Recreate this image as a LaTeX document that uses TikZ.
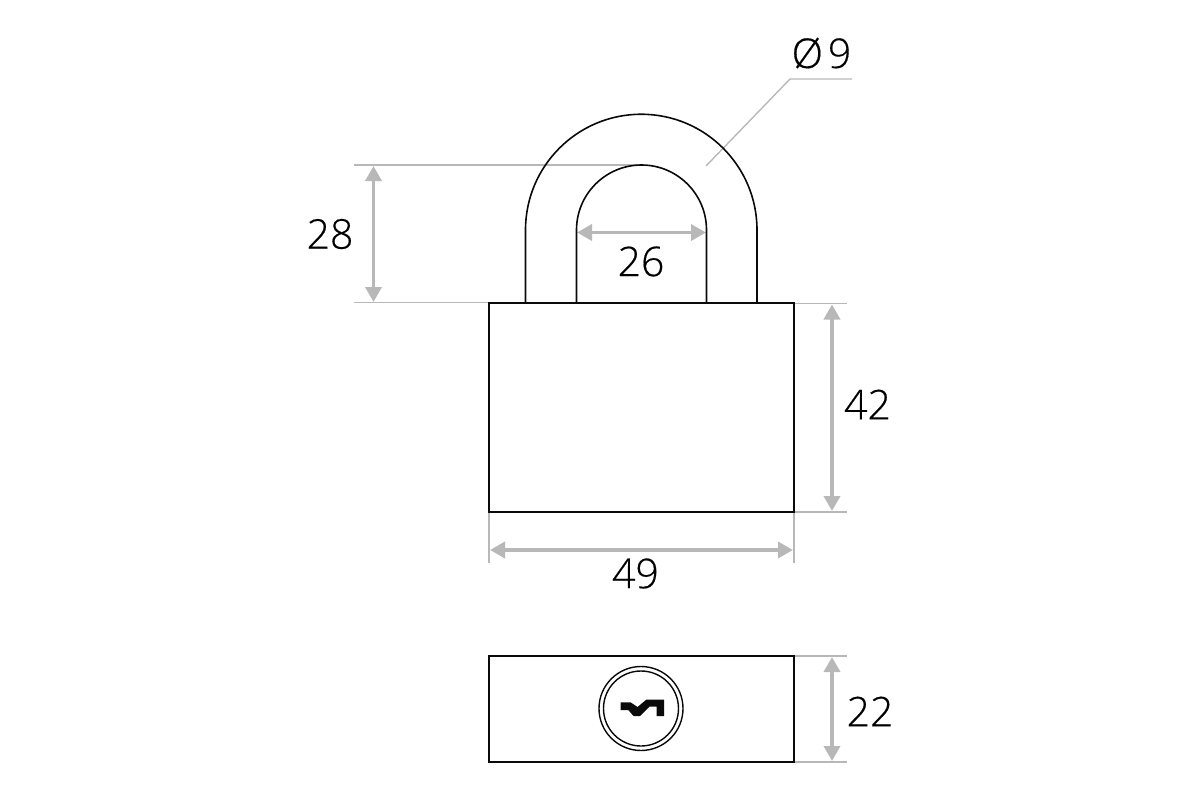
\documentclass[tikz,border=0pt]{standalone}
\usepackage{fontspec}
\setmainfont{Open Sans}
\newfontfamily\dimfont[FakeBold=0.35]{Open Sans Light}
\usetikzlibrary{arrows.meta}
\definecolor{dimgray}{RGB}{184,184,184}
\definecolor{inkline}{RGB}{10,10,10}
\tikzset{
  x=1pt,y=-1pt,
  body/.style={draw=inkline,line width=1.6pt,line join=miter},
  extline/.style={draw=dimgray,line width=1.4pt},
  dimarrow/.style={draw=dimgray,line width=3.6pt,{Triangle[length=15pt,width=16pt,fill=dimgray]}-{Triangle[length=15pt,width=16pt,fill=dimgray]}},
  dimlabel/.style={font=\dimfont\fontsize{41}{41}\selectfont,text=black,inner sep=0pt,anchor=center},
}
\begin{document}
\begin{tikzpicture}
\useasboundingbox (0,0) rectangle (1200,800);
% extension lines
\coordinate (e1a) at (354,165); \coordinate (e1b) at (640,165);
\coordinate (e2a) at (354,302.5); \coordinate (e2b) at (489,302.5);
\coordinate (e3a) at (794,303.5); \coordinate (e3b) at (847,303.5);
\coordinate (e4a) at (794,512); \coordinate (e4b) at (847,512);
\coordinate (e5a) at (489,512); \coordinate (e5b) at (489,563);
\coordinate (e6a) at (794,512); \coordinate (e6b) at (794,563);
\coordinate (e7a) at (794,656); \coordinate (e7b) at (847,656);
\coordinate (e8a) at (794,762); \coordinate (e8b) at (847,762);
\foreach \i in {1,...,8} \draw[extline] (e\i a) -- (e\i b);
% leader
\coordinate (l1) at (706,166); \coordinate (l2) at (790,79); \coordinate (l3) at (852,79);
\draw[extline] (l1) -- (l2) -- (l3);
% dimension arrows
\coordinate (a1) at (373.5,166); \coordinate (a2) at (373.5,302);
\coordinate (b1) at (577,232.5); \coordinate (b2) at (706,232.5);
\coordinate (c1) at (832,304.5); \coordinate (c2) at (832,511);
\coordinate (d1) at (490,550); \coordinate (d2) at (793,550);
\coordinate (f1) at (832,657); \coordinate (f2) at (832,761);
\draw[dimarrow] (a1) -- (a2);
\draw[dimarrow] (b1) -- (b2);
\draw[dimarrow] (c1) -- (c2);
\draw[dimarrow] (d1) -- (d2);
\draw[dimarrow] (f1) -- (f2);
% shackle
\draw[body] (525.5,303) -- (525.5,230) arc[start angle=180,end angle=0,x radius=115.75,y radius=-115.75] -- (757,303);
\draw[body] (576.5,303) -- (576.5,230) arc[start angle=180,end angle=0,x radius=65,y radius=-65] -- (706.5,303);
% body views
\node[body,outer sep=0pt,minimum width=305pt,minimum height=209pt,inner sep=0pt,anchor=north west] (case) at (489,303) {};
\node[body,outer sep=0pt,minimum width=305pt,minimum height=106pt,inner sep=0pt,anchor=north west] (base) at (489,656) {};
% lock cylinder
\draw[draw=inkline,line width=1.4pt] (641,708.5) circle[radius=42];
\draw[draw=inkline,line width=1.4pt] (641,708.5) circle[radius=37.5];
\fill[inkline] (620.7,702.3) -- (630.5,702.3) -- (637.5,707) -- (646.5,699.5) -- (664,699.5) -- (664,716) -- (656.7,716) -- (656.7,706.7) -- (649.5,706.7) -- (640,716) -- (633.5,716) -- (628.3,710) -- (620.7,710) -- cycle;
% labels
\node[dimlabel] (t28) at (330,234) {28};
\node[dimlabel] (t26) at (641,261.5) {26};
\node[dimlabel] (t42) at (867.5,404.5) {42};
\node[dimlabel] (t49) at (635.5,573.5) {49};
\node[dimlabel] (t22) at (870,711.5) {22};
\node[dimlabel] (t9) at (821.5,53) {Ø\hspace{5pt}9};
\end{tikzpicture}
\end{document}
